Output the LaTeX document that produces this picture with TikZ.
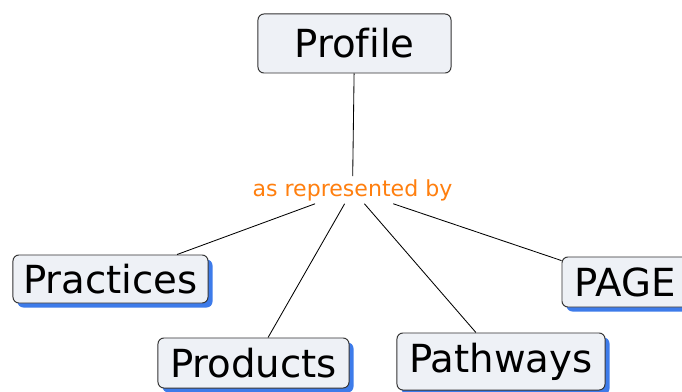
\documentclass[tikz,border=0pt]{standalone}
\usepackage{fontspec}
\setmainfont[Ligatures=NoCommon]{DejaVu Sans}
\usepackage{tikz}
\usetikzlibrary{positioning, shadows}

\definecolor{boxfill}{HTML}{EEF1F6}
\definecolor{boxline}{HTML}{333333}
\definecolor{boxshadow}{HTML}{3D7BEA}
\definecolor{linkorange}{HTML}{FF7F0F}

\tikzset{
    topic/.style={draw=boxline, fill=boxfill, rounded corners=0.15cm, line width=0.7pt,
        font=\fontsize{27.5}{31}\selectfont, inner sep=0pt},
    subtopic/.style={topic, drop shadow={shadow xshift=3.2pt, shadow yshift=-3.2pt,
        fill=boxshadow, opacity=1}},
    linkphrase/.style={text=linkorange, font=\fontsize{15.7}{18}\selectfont, inner sep=2pt},
    link/.style={draw=black, line width=0.6pt}
}

\begin{document}
\begin{tikzpicture}[x=0.025cm, y=-0.025cm]
        \useasboundingbox (0,0) rectangle (682,392);
        % main concept
        \node[topic, minimum width=4.825cm, minimum height=1.475cm] (profile) at (354.5,43.5) {Profile};
        \node[linkphrase] (repr) at (352.5,190) {as represented by};
        % sub concepts
        \node[subtopic, minimum width=4.875cm, minimum height=1.2cm] (practices) at (110.5,279) {Practices};
        \node[subtopic, minimum width=4.775cm, minimum height=1.25cm] (products) at (253.5,363) {Products};
        \node[subtopic, minimum width=5.2cm, minimum height=1.425cm] (pathways) at (501,361.5) {Pathways};
        \node[subtopic, minimum width=3.15cm, minimum height=1.25cm] (page) at (625,282) {PAGE};
        % links
        \draw[link] (profile) -- (repr);
        \draw[link] (repr) -- (practices);
        \draw[link] (repr) -- (products);
        \draw[link] (repr) -- (pathways);
        \draw[link] (repr) -- (page);
    \end{tikzpicture}
\end{document}
